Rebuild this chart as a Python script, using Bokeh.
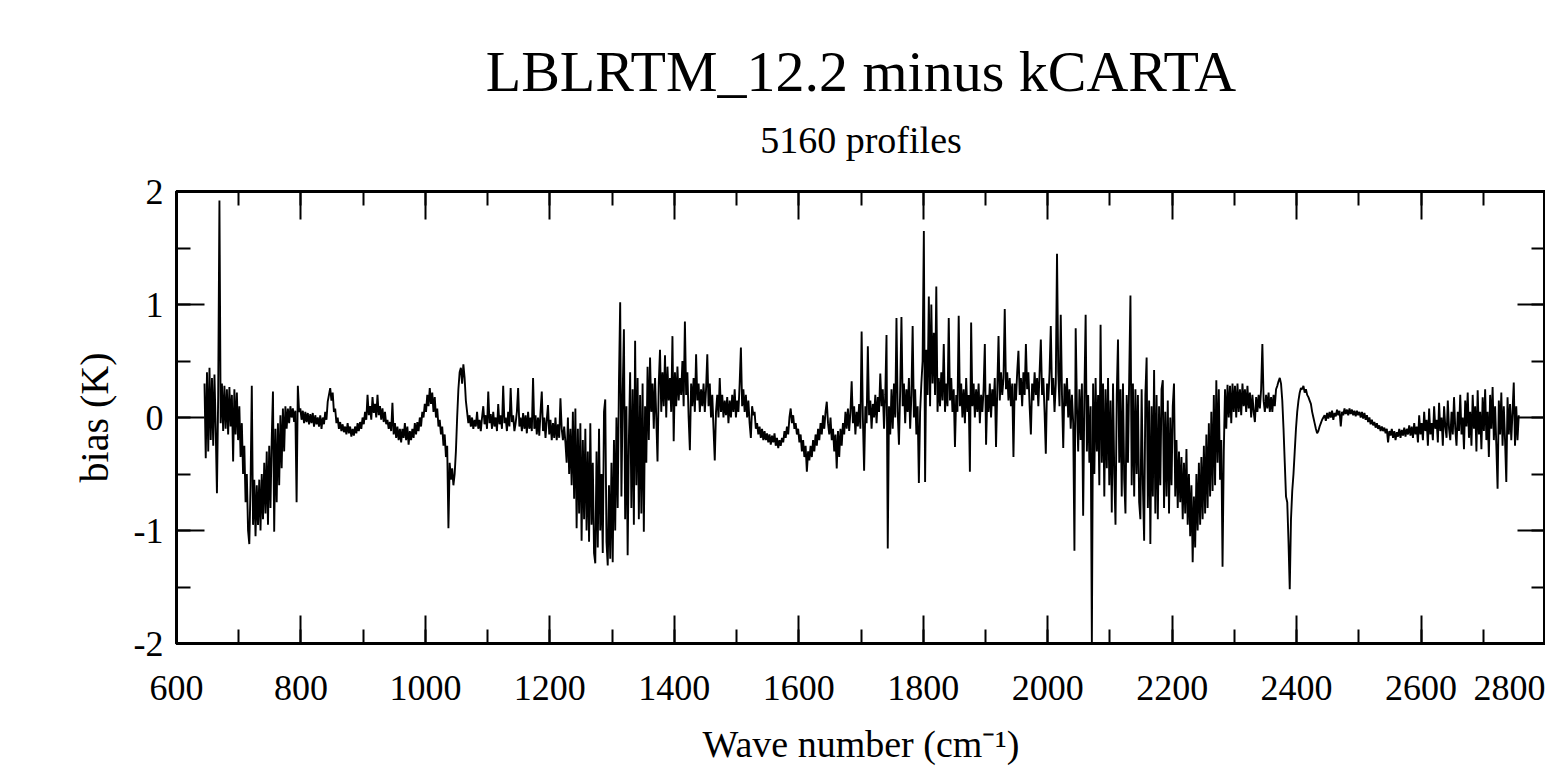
import numpy as np
from bokeh.plotting import figure
from bokeh.models import LinearAxis, SingleIntervalTicker, Title, Range1d
from bokeh.embed import file_html
from bokeh.resources import INLINE

# ---- texts ----
title_text = "LBLRTM_12.2 minus kCARTA"
subtitle_text = "5160 profiles"
x_label = "Wave number (cm\u207b\u00b9)"
y_label = "bias (K)"

# ---- data ----
wn_start = 645   # first channel (cm-1)
wn_step = 2      # sampling step (cm-1)

bias = [
    # 645 - 743
    0.30, -0.36, 0.40, -0.30, 0.44, -0.20, 0.35, -0.25, 0.38, -0.10,
    -0.67, 0.20, 1.92, -0.05, 0.30, -0.12, 0.28, -0.10, 0.25, -0.15,
    0.27, -0.08, 0.20, -0.39, 0.25, -0.15, 0.22, -0.20, 0.10, -0.35,
    -0.05, -0.50, -0.25, -0.75, -0.50, -1.00, -1.12, -0.60, 0.28, -0.95,
    -0.55, -1.05, -0.60, -0.95, -0.55, -1.00, -0.50, -0.90, -0.40, -0.85,
    # 745 - 843
    -0.30, -0.95, -0.25, -0.80, -0.20, 0.23, -1.01, -0.10, -0.75, -0.05,
    -0.60, 0.02, -0.45, 0.08, -0.30, 0.10, -0.10, 0.08, -0.05, 0.10,
    0.00, 0.08, -0.04, 0.06, -0.75, 0.28, 0.05, 0.08, -0.02, 0.06,
    -0.05, 0.05, -0.04, 0.04, -0.06, 0.03, -0.05, 0.04, -0.08, 0.02,
    -0.06, 0.00, -0.08, 0.02, -0.10, 0.00, -0.06, 0.05, -0.02, 0.14,
    # 845 - 943
    0.20, 0.26, 0.15, 0.22, 0.05, 0.08, -0.05, 0.00, -0.10, -0.04,
    -0.12, -0.06, -0.13, -0.08, -0.15, -0.05, -0.14, -0.08, -0.17, -0.10,
    -0.16, -0.08, -0.14, -0.05, -0.12, -0.04, -0.10, 0.00, -0.06, 0.05,
    -0.02, 0.20, 0.02, 0.10, -0.02, 0.18, 0.04, 0.12, 0.00, 0.20,
    0.02, 0.10, -0.02, 0.08, -0.04, 0.05, -0.06, -0.02, -0.10, -0.04,
    # 945 - 1043
    -0.12, 0.13, -0.15, -0.05, -0.18, -0.08, -0.20, -0.10, -0.22, -0.10,
    -0.18, -0.05, -0.20, -0.08, -0.24, -0.12, -0.20, -0.10, -0.18, -0.05,
    -0.15, -0.04, -0.12, 0.00, -0.08, 0.05, 0.00, 0.12, 0.05, 0.20,
    0.10, 0.26, 0.12, 0.22, 0.05, 0.18, 0.00, 0.08, -0.08, -0.02,
    -0.15, -0.08, -0.25, -0.15, -0.35, -0.25, -0.98, -0.40, -0.55, -0.45,
    # 1045 - 1143
    -0.60, -0.50, -0.30, 0.00, 0.25, 0.40, 0.44, 0.30, 0.47, 0.35,
    0.15, 0.05, -0.05, 0.02, -0.08, 0.00, -0.10, -0.02, -0.08, 0.05,
    -0.10, -0.02, -0.12, 0.00, 0.10, -0.06, 0.02, -0.10, 0.23, -0.05,
    0.03, -0.10, 0.05, -0.08, 0.00, -0.12, 0.12, -0.06, 0.02, -0.10,
    0.28, -0.05, 0.00, -0.12, 0.05, -0.08, 0.26, -0.04, 0.02, -0.12,
    # 1145 - 1243
    -0.05, 0.05, 0.26, -0.08, 0.00, -0.12, 0.04, -0.10, 0.02, -0.14,
    0.05, -0.10, 0.00, -0.12, 0.35, -0.10, 0.02, -0.15, 0.00, -0.16,
    0.05, 0.23, -0.12, 0.00, -0.18, -0.02, 0.11, -0.15, -0.02, -0.20,
    -0.05, -0.18, 0.00, -0.20, -0.06, -0.18, 0.17, -0.10, -0.20, -0.08,
    -0.22, -0.40, 0.00, -0.50, -0.10, -0.60, 0.05, -0.72, 0.08, -0.98,
    # 1245 - 1343
    -0.10, -0.85, -0.05, -1.09, -0.20, -0.90, -0.10, -1.00, -0.30, -1.10,
    -0.05, -0.95, -0.40, -1.20, -1.29, -0.30, -1.15, -0.10, -1.00, -0.50,
    -1.20, 0.05, 0.16, -1.10, -1.31, -0.60, -1.25, -0.40, -1.28, -0.20,
    -1.00, 0.00, -0.80, 0.30, 1.02, -0.70, 0.20, 0.78, -0.90, 0.10,
    -1.22, -0.20, 0.40, -0.80, 0.25, -0.95, 0.68, -0.60, 0.35, -0.90,
    # 1345 - 1443
    0.20, -0.85, 0.30, -1.01, 0.10, -0.40, 0.45, -0.20, 0.53, 0.05,
    0.30, -0.10, 0.35, 0.00, -0.39, 0.30, 0.60, 0.05, 0.40, 0.10,
    0.55, 0.00, 0.45, 0.15, 0.35, 0.05, 0.72, -0.21, 0.40, 0.10,
    0.45, 0.15, 0.35, 0.20, 0.50, 0.10, 0.85, 0.20, 0.40, 0.00,
    -0.29, 0.30, 0.10, 0.35, 0.05, 0.56, 0.15, 0.30, 0.05, 0.25,
    # 1445 - 1543
    0.10, 0.30, 0.05, 0.25, 0.56, 0.10, 0.30, 0.00, 0.20, -0.10,
    -0.38, 0.05, 0.20, 0.00, 0.35, 0.05, 0.20, 0.00, 0.15, 0.02,
    0.18, -0.05, 0.15, 0.00, 0.20, 0.05, 0.25, 0.00, 0.15, 0.05,
    0.30, 0.62, 0.10, 0.25, 0.05, 0.20, 0.00, 0.15, -0.05, -0.18,
    0.10, 0.02, 0.05, -0.10, -0.05, -0.15, -0.08, -0.18, -0.10, -0.20,
    # 1545 - 1643
    -0.12, -0.20, -0.14, -0.22, -0.15, -0.24, -0.16, -0.22, -0.14, -0.25,
    -0.18, -0.27, -0.20, -0.25, -0.18, -0.22, -0.12, -0.18, -0.08, -0.15,
    0.00, 0.08, -0.05, 0.02, -0.10, -0.05, -0.15, -0.10, -0.22, -0.15,
    -0.30, -0.20, -0.35, -0.25, -0.48, -0.30, -0.38, -0.25, -0.35, -0.20,
    -0.30, -0.15, -0.25, -0.10, -0.20, -0.05, -0.15, 0.02, -0.10, 0.05,
    # 1645 - 1743
    0.14, -0.05, -0.15, 0.00, -0.20, -0.10, -0.30, -0.15, -0.45, -0.12,
    -0.35, -0.10, -0.25, -0.05, -0.15, 0.05, -0.10, 0.08, -0.12, 0.05,
    0.32, -0.05, 0.10, -0.15, 0.05, -0.08, 0.12, -0.10, 0.76, 0.00,
    -0.47, 0.10, -0.05, 0.63, 0.02, 0.15, -0.10, 0.12, 0.00, 0.20,
    -0.05, 0.18, 0.05, 0.39, 0.10, 0.25, -0.10, 0.20, 0.73, -1.16,
    # 1745 - 1843
    0.10, -0.15, 0.25, -0.10, 0.30, 0.00, 0.88, 0.05, -0.24, 0.25,
    0.89, 0.10, 0.30, -0.05, 0.25, 0.05, 0.35, -0.10, 0.20, 0.81,
    0.00, 0.25, -0.15, 0.10, -0.58, 0.05, 0.30, 0.50, 1.65, -0.57,
    0.60, 0.20, 1.07, 0.10, 1.00, 0.30, 0.75, 0.20, 1.16, 0.05,
    0.35, 0.10, 0.40, 0.15, 0.65, 0.05, 0.30, 0.10, 0.88, 0.15,
    # 1845 - 1943
    0.35, 0.05, 0.25, -0.26, 0.20, 0.05, 0.90, 0.10, 0.30, 0.00,
    0.25, -0.05, 0.35, 0.05, 0.20, -0.48, 0.84, 0.10, 0.30, 0.00,
    0.25, 0.05, 0.30, -0.05, 0.20, 0.05, 0.25, 0.65, -0.24, 0.20,
    0.05, 0.30, 0.00, 0.25, 0.10, 0.35, -0.26, 0.25, 0.72, 0.15,
    0.40, 0.20, 0.35, 0.96, 0.25, 0.40, 0.15, 0.35, 0.10, 0.30,
    # 1945 - 2043
    -0.35, 0.30, 0.15, 0.40, 0.59, 0.20, 0.35, 0.10, 0.40, 0.20,
    0.65, 0.25, 0.40, 0.10, -0.15, 0.30, 0.15, 0.40, 0.20, 0.35,
    0.10, 0.40, 0.69, 0.20, 0.35, 0.05, -0.32, 0.30, 0.15, 0.40,
    0.81, 0.20, 0.35, 0.05, 0.30, 1.45, 0.40, 0.10, 0.91, 0.20,
    -0.27, 0.30, 0.10, 0.35, 0.00, 0.25, -0.10, 0.20, -0.05, -1.18,
    # 2045 - 2143
    0.79, 0.10, -0.30, 0.25, -0.20, 0.30, -0.87, 0.20, 0.91, -0.30,
    0.20, -0.40, 0.10, -2.00, 0.30, -0.50, 0.35, -0.30, 0.20, -0.60,
    0.82, -0.40, 0.30, -0.70, 0.25, -0.45, 0.35, -0.60, 0.15, -0.84,
    0.30, -0.50, -0.95, 0.20, 0.69, -0.40, 0.25, -0.70, 0.30, -0.55,
    -0.85, 0.20, -0.40, 0.35, 1.08, -0.60, 0.30, -0.70, 0.25, -0.50,
    # 2145 - 2243
    0.20, -0.75, -0.90, 0.25, -0.60, -1.09, 0.20, 0.53, -0.80, 0.15,
    -1.12, 0.10, -0.70, 0.42, -0.85, 0.20, -0.90, 0.10, -0.60, 0.25,
    0.33, -0.80, 0.05, -0.70, 0.15, -0.85, 0.00, -0.60, 0.10, 0.30,
    -0.70, -0.20, -0.80, -0.30, -0.75, -0.35, -0.90, -0.40, -0.85, -0.28,
    -0.95, -0.50, -1.05, -0.60, -1.28, -0.70, -1.15, -0.50, -1.00, -0.40,
    # 2245 - 2343
    -0.95, -0.35, -0.90, -0.25, -0.85, -0.15, -0.80, -0.05, -0.70, 0.05,
    -0.65, 0.20, -0.60, 0.33, -0.40, 0.25, -0.55, -0.20, -1.32, -0.30,
    0.25, -0.10, 0.29, 0.00, 0.28, -0.05, 0.30, 0.05, 0.28, 0.00,
    0.30, 0.05, 0.25, 0.02, 0.30, 0.10, 0.25, 0.05, 0.28, 0.08,
    0.22, 0.00, 0.20, 0.05, -0.04, 0.18, 0.05, 0.20, 0.08, 0.25,
    # 2345 - 2443
    0.65, 0.15, 0.05, 0.20, 0.08, 0.22, 0.05, 0.18, 0.05, 0.20,
    0.10, 0.25, 0.28, 0.32, 0.35, 0.30, 0.15, -0.10, -0.40, -0.70,
    -0.75, -1.10, -1.52, -0.90, -0.65, -0.50, -0.30, -0.10, 0.05, 0.15,
    0.22, 0.26, 0.25, 0.28, 0.22, 0.25, 0.20, 0.18, 0.15, 0.12,
    0.05, 0.00, -0.05, -0.10, -0.14, -0.12, -0.08, -0.05, -0.02, 0.00,
    # 2445 - 2543
    0.02, -0.03, 0.04, -0.01, 0.05, 0.00, 0.06, -0.02, 0.04, 0.01,
    0.07, 0.02, 0.06, -0.08, 0.05, 0.02, 0.08, 0.03, 0.07, 0.02,
    0.08, 0.03, 0.07, 0.02, 0.06, 0.01, 0.06, 0.02, 0.05, 0.00,
    0.05, -0.01, 0.04, -0.02, 0.02, -0.04, 0.00, -0.06, -0.02, -0.07,
    -0.04, -0.09, -0.05, -0.10, -0.07, -0.12, -0.08, -0.12, -0.09, -0.14,
    # 2545 - 2643
    -0.10, -0.22, -0.12, -0.16, -0.10, -0.18, -0.12, -0.20, -0.13, -0.17,
    -0.10, -0.18, -0.11, -0.16, -0.09, -0.17, -0.10, -0.15, -0.07, -0.16,
    -0.08, -0.18, -0.05, -0.15, -0.08, -0.22, 0.02, -0.15, -0.05, -0.20,
    0.05, -0.12, -0.02, -0.25, 0.08, -0.15, -0.05, -0.20, 0.10, -0.10,
    -0.02, -0.22, 0.13, -0.12, 0.00, -0.25, 0.10, -0.08, -0.18, 0.15,
    # 2645 - 2743
    -0.10, -0.20, 0.05, -0.15, 0.18, -0.10, -0.25, 0.05, -0.12, 0.20,
    -0.15, 0.00, -0.28, 0.15, -0.08, 0.22, -0.18, 0.05, -0.25, 0.20,
    -0.10, 0.10, -0.30, 0.24, -0.15, 0.05, -0.28, 0.18, -0.12, 0.25,
    -0.20, 0.05, -0.35, 0.20, -0.10, 0.27, -0.20, 0.10, -0.25, -0.63,
    0.15, -0.15, 0.22, -0.25, 0.10, -0.20, -0.57, 0.18, -0.15, 0.12,
    # 2745 - 2757
    -0.20, 0.05, 0.31, -0.25, 0.10, -0.20, 0.02,
]
wn = [wn_start + wn_step * i for i in range(len(bias))]

x_tick_interval = 200
y_tick_interval = 1
y_tick_labels = {-2: "-2", -1: "-1", 0: "0", 1: "1", 2: "2"}

FONT = "Liberation Serif"

p = figure(
    width=1545, height=767,
    x_range=Range1d(600, 2800), y_range=Range1d(-2, 2),
    output_backend="svg", toolbar_location=None,
    min_border_left=176, min_border_right=0, min_border_top=191, min_border_bottom=0,
    background_fill_color="white", border_fill_color="white",
)
p.grid.visible = False
p.outline_line_color = "black"
p.outline_line_width = 3

p.line(wn, bias, line_color="black", line_width=1.9)


def style(ax, labels=True):
    ax.axis_line_width = 3
    ax.axis_line_color = "black"
    ax.major_tick_in = 28
    ax.major_tick_out = 0
    ax.minor_tick_in = 14
    ax.minor_tick_out = 0
    ax.major_tick_line_width = 2
    ax.minor_tick_line_width = 2
    ax.major_tick_line_color = "black"
    ax.minor_tick_line_color = "black"
    ax.major_label_text_font = FONT
    ax.axis_label_text_font = FONT
    ax.axis_label_text_font_style = "normal"
    ax.axis_label_text_color = "black"
    if labels:
        ax.major_label_text_color = "black"
        ax.major_label_text_font_size = "36px"
        ax.axis_label_text_font_size = "38px"
    else:
        ax.major_label_text_color = None
        ax.major_label_text_font_size = "1px"
        ax.major_label_standoff = 0


xa = p.xaxis[0]
xa.ticker = SingleIntervalTicker(interval=x_tick_interval, num_minor_ticks=2)
style(xa)
xa.axis_label = x_label
xa.major_label_standoff = 32
xa.axis_label_standoff = 20

ya = p.yaxis[0]
ya.ticker = SingleIntervalTicker(interval=y_tick_interval, num_minor_ticks=2)
style(ya)
ya.axis_label = y_label
ya.axis_label_text_font_size = "40px"
ya.major_label_overrides = y_tick_labels
ya.major_label_standoff = 13
ya.axis_label_standoff = 14

top = LinearAxis(ticker=SingleIntervalTicker(interval=x_tick_interval, num_minor_ticks=2))
style(top, labels=False)
p.add_layout(top, "above")
right = LinearAxis(ticker=SingleIntervalTicker(interval=y_tick_interval, num_minor_ticks=2))
style(right, labels=False)
p.add_layout(right, "right")

sub = Title(text=subtitle_text, align="center", text_font=FONT, text_font_size="38px",
            text_font_style="normal", text_color="black", standoff=61)
main = Title(text=title_text, align="center", text_font=FONT, text_font_size="58px",
             text_font_style="normal", text_color="black", standoff=-35)
p.add_layout(sub, "above")
p.add_layout(main, "above")

open("out.html", "w").write(file_html(p, INLINE))
